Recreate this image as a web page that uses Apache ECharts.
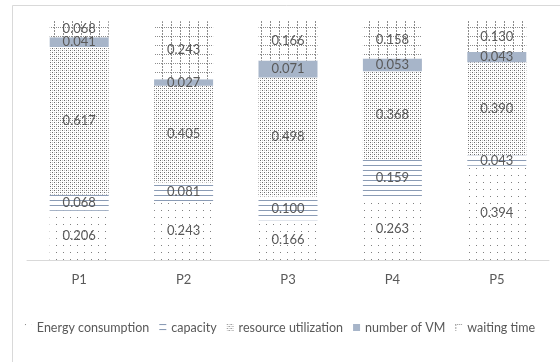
<!DOCTYPE html>
<html>
<head>
<meta charset="utf-8">
<script src="https://cdn.jsdelivr.net/npm/echarts@6/dist/echarts.min.js"></script>
<style>
html,body{margin:0;padding:0;background:#fff;}
#chart{width:560px;height:362px;}
</style>
</head>
<body>
<div id="chart"></div>
<script>
var categories = ['P1', 'P2', 'P3', 'P4', 'P5'];
var energyConsumption = [0.206, 0.243, 0.166, 0.263, 0.394];
var capacity = [0.068, 0.081, 0.100, 0.159, 0.043];
var resourceUtilization = [0.617, 0.405, 0.498, 0.368, 0.390];
var numberOfVM = [0.041, 0.027, 0.071, 0.053, 0.043];
var waitingTime = [0.068, 0.243, 0.166, 0.158, 0.130];
var seriesNames = ['Energy consumption', 'capacity', 'resource utilization', 'number of VM', 'waiting time'];

function pattern(w, h, draw) {
  var c = document.createElement('canvas');
  c.width = w; c.height = h;
  var ctx = c.getContext('2d');
  ctx.fillStyle = '#ffffff';
  ctx.fillRect(0, 0, w, h);
  draw(ctx);
  return { image: c, repeat: 'repeat' };
}
var pEnergy = pattern(7, 7, function (ctx) {
  ctx.fillStyle = '#7f7f7f';
  ctx.fillRect(0, 0, 1, 1);
});
var pCapacity = pattern(4, 5, function (ctx) {
  ctx.fillStyle = '#8a9bb5';
  ctx.fillRect(0, 0, 4, 1);
});
var pResource = pattern(4, 4, function (ctx) {
  ctx.fillStyle = '#6a6a6a';
  ctx.fillRect(0, 0, 1, 1);
  ctx.fillRect(2, 2, 1, 1);
  ctx.fillStyle = '#c4c4c4';
  ctx.fillRect(2, 0, 1, 1);
  ctx.fillRect(0, 2, 1, 1);
});
var pVM = '#a7b5c9';
var pWaiting = pattern(9, 9, function (ctx) {
  ctx.fillStyle = '#8c8c8c';
  for (var x = 0; x < 9; x += 2) ctx.fillRect(x, 0, 1, 1);
  for (var y = 0; y < 9; y += 3) ctx.fillRect(0, y, 1, 2);
});
var colors = [pEnergy, pCapacity, pResource, pVM, pWaiting];
var datasets = [energyConsumption, capacity, resourceUtilization, numberOfVM, waitingTime];

var font = 'Lato';
var chart = echarts.init(document.getElementById('chart'), null, { renderer: 'canvas' });
chart.setOption({
  animation: false,
  backgroundColor: '#ffffff',
  graphic: [{
    type: 'rect', left: 10, top: 3, z: -1,
    shape: { width: 600, height: 400 },
    style: { fill: 'none', stroke: '#d9d9d9', lineWidth: 1 }
  }],
  grid: { left: 27, right: 11, top: 21, bottom: 102 },
  legend: {
    bottom: 23,
    left: 'center',
    icon: 'rect',
    itemWidth: 7, itemHeight: 7, itemGap: 10,
    textStyle: { fontFamily: font, fontSize: 12.5, color: '#595959' },
    data: seriesNames
  },
  xAxis: {
    type: 'category', data: categories,
    axisLine: { lineStyle: { color: '#d9d9d9', width: 1 } },
    axisTick: { show: false },
    axisLabel: { fontFamily: font, fontSize: 13, color: '#595959', margin: 13 }
  },
  yAxis: { type: 'value', min: 0, max: 1, show: false, splitLine: { show: false } },
  series: seriesNames.map(function (n, i) {
    return {
      name: n, type: 'bar', stack: 'total', data: datasets[i],
      barWidth: 59,
      itemStyle: { color: colors[i] },
      label: {
        show: true, position: 'inside',
        formatter: function (p) { return p.value.toFixed(3); },
        fontFamily: font, fontSize: 13, color: '#595959'
      }
    };
  })
});
</script>
</body>
</html>
